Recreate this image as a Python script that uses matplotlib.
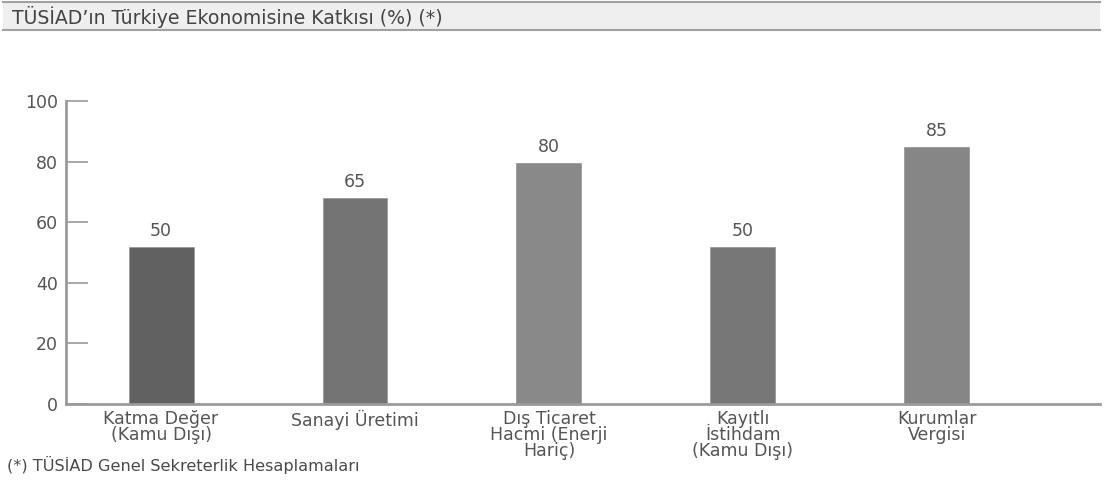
import matplotlib.pyplot as plt
from matplotlib.patches import Rectangle

plt.rcParams["font.family"] = ["DejaVu Sans"]

# Chart data
categories = [
    "Katma Değer\n(Kamu Dışı)",
    "Sanayi Üretimi",
    "Dış Ticaret\nHacmi (Enerji\nHariç)",
    "Kayıtlı\nİstihdam\n(Kamu Dışı)",
    "Kurumlar\nVergisi",
]
value_labels = ["50", "65", "80", "50", "85"]
bar_heights = [51.8, 68.0, 79.5, 51.7, 84.7]
bar_colors = ["#616161", "#747474", "#898989", "#777777", "#868686"]
y_ticks = [0, 20, 40, 60, 80, 100]

title = "TÜSİAD’ın Türkiye Ekonomisine Katkısı (%) (*)"
footnote = "(*) TÜSİAD Genel Sekreterlik Hesaplamaları"

text_color = "#555555"
axis_color = "#9a9a9a"

fig = plt.figure(figsize=(11.06, 4.99), dpi=100)

# Title band
band = Rectangle((0.003, 0.94), 0.992, 0.056, transform=fig.transFigure,
                 facecolor="#efefef", edgecolor="none")
fig.patches.append(band)
fig.add_artist(plt.Line2D([0.003, 0.995], [0.996, 0.996], transform=fig.transFigure,
                          color="#a0a0a0", lw=1.5))
fig.add_artist(plt.Line2D([0.003, 0.995], [0.94, 0.94], transform=fig.transFigure,
                          color="#a0a0a0", lw=1.5))
fig.text(0.011, 0.966, title, fontsize=13.6, color="#444444", va="center",
         ha="left")

ax = fig.add_axes([0.0597, 0.1904, 0.9346, 0.6072])
x = list(range(len(categories)))
bars = ax.bar(x, bar_heights, width=0.335, color=bar_colors,
              edgecolor="#9a9a9a", linewidth=0.6)

for rect, lab in zip(bars, value_labels):
    ax.text(rect.get_x() + rect.get_width() / 2, rect.get_height() + 2.3, lab,
            ha="center", va="bottom", fontsize=12.5, color=text_color)

ax.set_xlim(-0.49, 4.84)
ax.set_ylim(0, 100)
ax.set_yticks(y_ticks)
ax.set_xticks(x)
ax.set_xticklabels(categories, fontsize=12.5, color=text_color, linespacing=0.88)
ax.tick_params(axis="x", length=0, pad=4)
ax.tick_params(axis="y", direction="in", length=16, width=1.2, color=axis_color,
               labelsize=12.5, labelcolor=text_color, pad=6)

for side in ["top", "right"]:
    ax.spines[side].set_visible(False)
for side in ["left", "bottom"]:
    ax.spines[side].set_color(axis_color)
    ax.spines[side].set_linewidth(2)

fig.text(0.006, 0.068, footnote, fontsize=11.6, color="#4a4a4a", ha="left",
         va="center")

fig.savefig("out.png", dpi=100)
